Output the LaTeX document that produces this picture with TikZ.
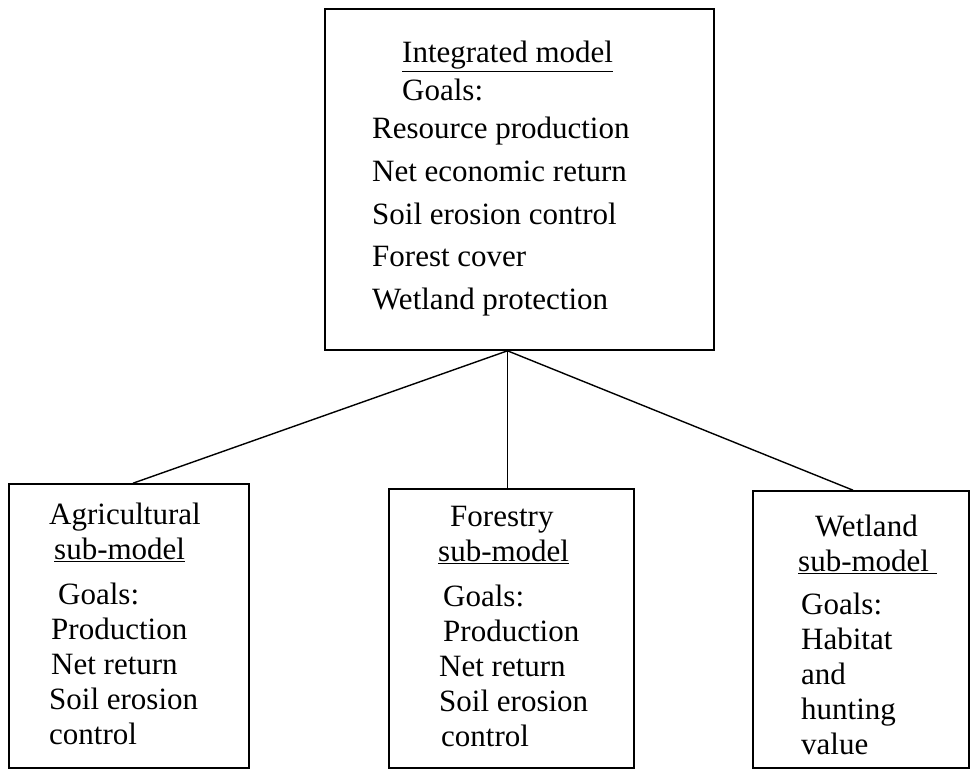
\documentclass[tikz,border=0pt]{standalone}
\usepackage{fontspec}
\setmainfont{Liberation Serif}
\begin{document}
\begin{tikzpicture}[x=1pt,y=-1pt,
    box/.style={draw,line width=1.6pt,inner sep=0pt},
    goals/.style={anchor=north west,align=left,inner sep=0pt,font=\fontsize{31}{35}\selectfont},
    link/.style={line width=1.4pt}]
  \useasboundingbox (0,0) rectangle (974,772);
  % boxes
  \node[box,minimum width=389pt,minimum height=341pt] (top) at (519.5,179.5) {};
  \node[box,minimum width=240pt,minimum height=284pt] (agri) at (129,626) {};
  \node[box,minimum width=245pt,minimum height=279pt] (forest) at (511.5,628.5) {};
  \node[box,minimum width=216pt,minimum height=277pt] (wet) at (861,629.5) {};
  % texts
  \node[goals,font=\fontsize{31}{38}\selectfont] (toptext) at (372,41)
    {\hspace{30pt}\underline{Integrated model}\\
     \hspace{30pt}Goals:\\
     Resource production\\[5pt]
     Net economic return\\[5pt]
     Soil erosion control\\[4pt]
     Forest cover\\[5pt]
     Wetland protection};
  \node[goals] (agritext) at (49,503)
    {Agricultural\\
     \hspace{5pt}\underline{sub-model}\\[10pt]
     \hspace{9pt}Goals:\\
     \hspace{2pt}Production\\
     \hspace{2pt}Net return\\
     Soil erosion\\
     control};
  \node[goals] (foresttext) at (438,506)
    {\hspace{12pt}Forestry\\
     \underline{sub-model}\\[10pt]
     \hspace{5pt}Goals:\\
     \hspace{5pt}Production\\
     \hspace{1pt}Net return\\
     \hspace{1pt}Soil erosion\\
     \hspace{3pt}control};
  \node[goals] (wettext) at (798,515)
    {\hspace{17pt}Wetland\\
     \underline{sub-model\ }\\[8pt]
     \hspace{3pt}Goals:\\
     \hspace{3pt}Habitat\\
     \hspace{3pt}and\\
     \hspace{3pt}hunting\\
     \hspace{3pt}value};
  % connectors
  \coordinate (hub) at ([xshift=-12pt]top.south);
  \draw[link] (hub) -- ([xshift=4pt]agri.north);
  \draw[link,line width=1pt] (hub) -- (hub |- forest.north);
  \draw[link] (hub) -- ([xshift=-8pt]wet.north);
\end{tikzpicture}
\end{document}
